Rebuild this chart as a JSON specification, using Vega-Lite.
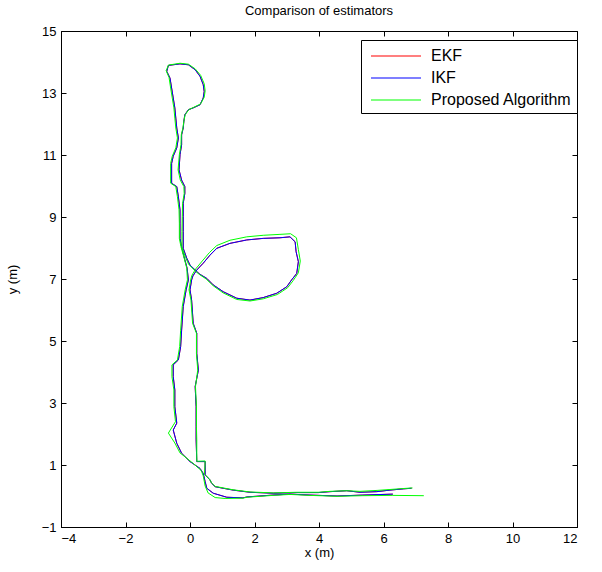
{
  "$schema": "https://vega.github.io/schema/vega-lite/v6.json",
  "width": 516,
  "height": 496,
  "autosize": {"type": "none"},
  "padding": {"left": 61, "top": 31, "right": 25, "bottom": 45},
  "background": "white",
  "title": {"text": "Comparison of estimators", "fontSize": 13, "fontWeight": "normal", "font": "Liberation Sans", "color": "black", "offset": 7},
  "config": {
    "view": {"stroke": "black", "strokeWidth": 1},
    "axis": {"grid": false, "domainColor": "black", "tickColor": "black", "labelColor": "black", "labelFont": "Liberation Sans", "labelFontSize": 13, "titleFont": "Liberation Sans", "titleFontSize": 13, "titleFontWeight": "normal", "titleColor": "black", "tickSize": -5, "labelPadding": 10}
  },
  "datasets": {
    "pts": [
      {"s":"EKF","i":1,"x":6.87,"y":0.25},{"s":"EKF","i":2,"x":6.61,"y":0.23},{"s":"EKF","i":3,"x":6.2,"y":0.19},{"s":"EKF","i":4,"x":5.79,"y":0.14},{"s":"EKF","i":5,"x":5.27,"y":0.12},{"s":"EKF","i":6,"x":4.86,"y":0.17},{"s":"EKF","i":7,"x":4.34,"y":0.14},{"s":"EKF","i":8,"x":3.98,"y":0.11},{"s":"EKF","i":9,"x":3.31,"y":0.11},{"s":"EKF","i":10,"x":2.58,"y":0.09},{"s":"EKF","i":11,"x":1.86,"y":0.12},{"s":"EKF","i":12,"x":1.34,"y":0.19},{"s":"EKF","i":13,"x":1.03,"y":0.25},{"s":"EKF","i":14,"x":0.78,"y":0.3},{"s":"EKF","i":15,"x":0.67,"y":0.41},{"s":"EKF","i":16,"x":0.62,"y":0.52},{"s":"EKF","i":17,"x":0.47,"y":0.68},{"s":"EKF","i":18,"x":0.47,"y":1.11},{"s":"EKF","i":19,"x":0.21,"y":1.11},{"s":"EKF","i":20,"x":0.19,"y":1.81},{"s":"EKF","i":21,"x":0.19,"y":2.24},{"s":"EKF","i":22,"x":0.19,"y":2.88},{"s":"EKF","i":23,"x":0.16,"y":3.53},{"s":"EKF","i":24,"x":0.26,"y":4.06},{"s":"EKF","i":25,"x":0.21,"y":4.6},{"s":"EKF","i":26,"x":0.21,"y":5.25},{"s":"EKF","i":27,"x":0.1,"y":5.57},{"s":"EKF","i":28,"x":0.05,"y":6.32},{"s":"EKF","i":29,"x":0.0,"y":6.65},{"s":"EKF","i":30,"x":0.05,"y":6.97},{"s":"EKF","i":31,"x":0.09,"y":7.1},{"s":"EKF","i":32,"x":0.21,"y":7.29},{"s":"EKF","i":33,"x":0.41,"y":7.51},{"s":"EKF","i":34,"x":0.62,"y":7.77},{"s":"EKF","i":35,"x":0.83,"y":7.99},{"s":"EKF","i":36,"x":1.24,"y":8.15},{"s":"EKF","i":37,"x":1.76,"y":8.26},{"s":"EKF","i":38,"x":2.27,"y":8.31},{"s":"EKF","i":39,"x":2.79,"y":8.33},{"s":"EKF","i":40,"x":3.1,"y":8.36},{"s":"EKF","i":41,"x":3.26,"y":8.2},{"s":"EKF","i":42,"x":3.29,"y":7.88},{"s":"EKF","i":43,"x":3.36,"y":7.56},{"s":"EKF","i":44,"x":3.31,"y":7.18},{"s":"EKF","i":45,"x":3.15,"y":6.97},{"s":"EKF","i":46,"x":3.0,"y":6.75},{"s":"EKF","i":47,"x":2.69,"y":6.54},{"s":"EKF","i":48,"x":2.27,"y":6.4},{"s":"EKF","i":49,"x":1.86,"y":6.32},{"s":"EKF","i":50,"x":1.45,"y":6.38},{"s":"EKF","i":51,"x":1.03,"y":6.59},{"s":"EKF","i":52,"x":0.72,"y":6.81},{"s":"EKF","i":53,"x":0.52,"y":7.02},{"s":"EKF","i":54,"x":0.31,"y":7.15},{"s":"EKF","i":55,"x":0.21,"y":7.24},{"s":"EKF","i":56,"x":0.0,"y":7.45},{"s":"EKF","i":57,"x":-0.1,"y":7.67},{"s":"EKF","i":58,"x":-0.21,"y":7.99},{"s":"EKF","i":59,"x":-0.21,"y":8.53},{"s":"EKF","i":60,"x":-0.21,"y":9.01},{"s":"EKF","i":61,"x":-0.21,"y":9.44},{"s":"EKF","i":62,"x":-0.16,"y":9.76},{"s":"EKF","i":63,"x":-0.16,"y":9.98},{"s":"EKF","i":64,"x":-0.26,"y":10.19},{"s":"EKF","i":65,"x":-0.34,"y":10.52},{"s":"EKF","i":66,"x":-0.31,"y":11.01},{"s":"EKF","i":67,"x":-0.26,"y":11.33},{"s":"EKF","i":68,"x":-0.26,"y":11.65},{"s":"EKF","i":69,"x":-0.21,"y":11.87},{"s":"EKF","i":70,"x":-0.19,"y":12.09},{"s":"EKF","i":71,"x":-0.16,"y":12.3},{"s":"EKF","i":72,"x":-0.05,"y":12.46},{"s":"EKF","i":73,"x":0.1,"y":12.52},{"s":"EKF","i":74,"x":0.31,"y":12.62},{"s":"EKF","i":75,"x":0.41,"y":12.84},{"s":"EKF","i":76,"x":0.44,"y":13.05},{"s":"EKF","i":77,"x":0.41,"y":13.27},{"s":"EKF","i":78,"x":0.31,"y":13.54},{"s":"EKF","i":79,"x":0.16,"y":13.75},{"s":"EKF","i":80,"x":-0.05,"y":13.91},{"s":"EKF","i":81,"x":-0.31,"y":13.94},{"s":"EKF","i":82,"x":-0.67,"y":13.89},{"s":"EKF","i":83,"x":-0.72,"y":13.7},{"s":"EKF","i":84,"x":-0.62,"y":13.48},{"s":"EKF","i":85,"x":-0.57,"y":13.16},{"s":"EKF","i":86,"x":-0.52,"y":12.84},{"s":"EKF","i":87,"x":-0.47,"y":12.52},{"s":"EKF","i":88,"x":-0.44,"y":12.19},{"s":"EKF","i":89,"x":-0.41,"y":11.87},{"s":"EKF","i":90,"x":-0.36,"y":11.55},{"s":"EKF","i":91,"x":-0.41,"y":11.23},{"s":"EKF","i":92,"x":-0.52,"y":10.96},{"s":"EKF","i":93,"x":-0.57,"y":10.73},{"s":"EKF","i":94,"x":-0.57,"y":10.09},{"s":"EKF","i":95,"x":-0.41,"y":9.98},{"s":"EKF","i":96,"x":-0.36,"y":9.65},{"s":"EKF","i":97,"x":-0.31,"y":9.23},{"s":"EKF","i":98,"x":-0.31,"y":8.8},{"s":"EKF","i":99,"x":-0.31,"y":8.31},{"s":"EKF","i":100,"x":-0.26,"y":8.04},{"s":"EKF","i":101,"x":-0.19,"y":7.74},{"s":"EKF","i":102,"x":-0.09,"y":7.35},{"s":"EKF","i":103,"x":-0.05,"y":6.97},{"s":"EKF","i":104,"x":-0.12,"y":6.65},{"s":"EKF","i":105,"x":-0.21,"y":6.11},{"s":"EKF","i":106,"x":-0.26,"y":5.35},{"s":"EKF","i":107,"x":-0.29,"y":4.82},{"s":"EKF","i":108,"x":-0.36,"y":4.39},{"s":"EKF","i":109,"x":-0.52,"y":4.23},{"s":"EKF","i":110,"x":-0.52,"y":3.85},{"s":"EKF","i":111,"x":-0.47,"y":3.42},{"s":"EKF","i":112,"x":-0.47,"y":2.88},{"s":"EKF","i":113,"x":-0.41,"y":2.35},{"s":"EKF","i":114,"x":-0.52,"y":2.13},{"s":"EKF","i":115,"x":-0.41,"y":1.7},{"s":"EKF","i":116,"x":-0.26,"y":1.38},{"s":"EKF","i":117,"x":0.0,"y":1.11},{"s":"EKF","i":118,"x":0.31,"y":0.89},{"s":"EKF","i":119,"x":0.41,"y":0.73},{"s":"EKF","i":120,"x":0.47,"y":0.46},{"s":"EKF","i":121,"x":0.52,"y":0.25},{"s":"EKF","i":122,"x":0.72,"y":0.09},{"s":"EKF","i":123,"x":1.14,"y":-0.04},{"s":"EKF","i":124,"x":1.64,"y":-0.06},{"s":"EKF","i":125,"x":1.77,"y":-0.03},{"s":"EKF","i":126,"x":2.57,"y":0.03},{"s":"EKF","i":127,"x":3.1,"y":0.06},{"s":"EKF","i":128,"x":3.72,"y":0.03},{"s":"EKF","i":129,"x":4.56,"y":0.0},{"s":"EKF","i":130,"x":5.36,"y":0.03},{"s":"EKF","i":131,"x":6.29,"y":0.06},
      {"s":"IKF","i":1,"x":6.87,"y":0.25},{"s":"IKF","i":2,"x":6.61,"y":0.23},{"s":"IKF","i":3,"x":6.2,"y":0.19},{"s":"IKF","i":4,"x":5.79,"y":0.14},{"s":"IKF","i":5,"x":5.27,"y":0.12},{"s":"IKF","i":6,"x":4.86,"y":0.17},{"s":"IKF","i":7,"x":4.34,"y":0.14},{"s":"IKF","i":8,"x":3.98,"y":0.11},{"s":"IKF","i":9,"x":3.31,"y":0.11},{"s":"IKF","i":10,"x":2.58,"y":0.09},{"s":"IKF","i":11,"x":1.86,"y":0.12},{"s":"IKF","i":12,"x":1.34,"y":0.19},{"s":"IKF","i":13,"x":1.03,"y":0.25},{"s":"IKF","i":14,"x":0.78,"y":0.3},{"s":"IKF","i":15,"x":0.67,"y":0.41},{"s":"IKF","i":16,"x":0.62,"y":0.52},{"s":"IKF","i":17,"x":0.47,"y":0.68},{"s":"IKF","i":18,"x":0.47,"y":1.11},{"s":"IKF","i":19,"x":0.21,"y":1.11},{"s":"IKF","i":20,"x":0.19,"y":1.81},{"s":"IKF","i":21,"x":0.19,"y":2.24},{"s":"IKF","i":22,"x":0.19,"y":2.88},{"s":"IKF","i":23,"x":0.16,"y":3.53},{"s":"IKF","i":24,"x":0.26,"y":4.06},{"s":"IKF","i":25,"x":0.21,"y":4.6},{"s":"IKF","i":26,"x":0.21,"y":5.25},{"s":"IKF","i":27,"x":0.1,"y":5.57},{"s":"IKF","i":28,"x":0.05,"y":6.32},{"s":"IKF","i":29,"x":0.0,"y":6.65},{"s":"IKF","i":30,"x":0.05,"y":6.97},{"s":"IKF","i":31,"x":0.09,"y":7.1},{"s":"IKF","i":32,"x":0.21,"y":7.29},{"s":"IKF","i":33,"x":0.41,"y":7.51},{"s":"IKF","i":34,"x":0.62,"y":7.77},{"s":"IKF","i":35,"x":0.83,"y":7.99},{"s":"IKF","i":36,"x":1.24,"y":8.15},{"s":"IKF","i":37,"x":1.76,"y":8.26},{"s":"IKF","i":38,"x":2.27,"y":8.31},{"s":"IKF","i":39,"x":2.79,"y":8.33},{"s":"IKF","i":40,"x":3.1,"y":8.36},{"s":"IKF","i":41,"x":3.26,"y":8.2},{"s":"IKF","i":42,"x":3.29,"y":7.88},{"s":"IKF","i":43,"x":3.36,"y":7.56},{"s":"IKF","i":44,"x":3.31,"y":7.18},{"s":"IKF","i":45,"x":3.15,"y":6.97},{"s":"IKF","i":46,"x":3.0,"y":6.75},{"s":"IKF","i":47,"x":2.69,"y":6.54},{"s":"IKF","i":48,"x":2.27,"y":6.4},{"s":"IKF","i":49,"x":1.86,"y":6.32},{"s":"IKF","i":50,"x":1.45,"y":6.38},{"s":"IKF","i":51,"x":1.03,"y":6.59},{"s":"IKF","i":52,"x":0.72,"y":6.81},{"s":"IKF","i":53,"x":0.52,"y":7.02},{"s":"IKF","i":54,"x":0.31,"y":7.15},{"s":"IKF","i":55,"x":0.21,"y":7.24},{"s":"IKF","i":56,"x":0.0,"y":7.45},{"s":"IKF","i":57,"x":-0.1,"y":7.67},{"s":"IKF","i":58,"x":-0.21,"y":7.99},{"s":"IKF","i":59,"x":-0.21,"y":8.53},{"s":"IKF","i":60,"x":-0.21,"y":9.01},{"s":"IKF","i":61,"x":-0.21,"y":9.44},{"s":"IKF","i":62,"x":-0.16,"y":9.76},{"s":"IKF","i":63,"x":-0.16,"y":9.98},{"s":"IKF","i":64,"x":-0.26,"y":10.19},{"s":"IKF","i":65,"x":-0.34,"y":10.52},{"s":"IKF","i":66,"x":-0.31,"y":11.01},{"s":"IKF","i":67,"x":-0.26,"y":11.33},{"s":"IKF","i":68,"x":-0.26,"y":11.65},{"s":"IKF","i":69,"x":-0.21,"y":11.87},{"s":"IKF","i":70,"x":-0.19,"y":12.09},{"s":"IKF","i":71,"x":-0.16,"y":12.3},{"s":"IKF","i":72,"x":-0.05,"y":12.46},{"s":"IKF","i":73,"x":0.1,"y":12.52},{"s":"IKF","i":74,"x":0.31,"y":12.62},{"s":"IKF","i":75,"x":0.41,"y":12.84},{"s":"IKF","i":76,"x":0.44,"y":13.05},{"s":"IKF","i":77,"x":0.41,"y":13.27},{"s":"IKF","i":78,"x":0.31,"y":13.54},{"s":"IKF","i":79,"x":0.16,"y":13.75},{"s":"IKF","i":80,"x":-0.05,"y":13.91},{"s":"IKF","i":81,"x":-0.31,"y":13.94},{"s":"IKF","i":82,"x":-0.67,"y":13.89},{"s":"IKF","i":83,"x":-0.72,"y":13.7},{"s":"IKF","i":84,"x":-0.62,"y":13.48},{"s":"IKF","i":85,"x":-0.57,"y":13.16},{"s":"IKF","i":86,"x":-0.52,"y":12.84},{"s":"IKF","i":87,"x":-0.47,"y":12.52},{"s":"IKF","i":88,"x":-0.44,"y":12.19},{"s":"IKF","i":89,"x":-0.41,"y":11.87},{"s":"IKF","i":90,"x":-0.36,"y":11.55},{"s":"IKF","i":91,"x":-0.41,"y":11.23},{"s":"IKF","i":92,"x":-0.52,"y":10.96},{"s":"IKF","i":93,"x":-0.57,"y":10.73},{"s":"IKF","i":94,"x":-0.57,"y":10.09},{"s":"IKF","i":95,"x":-0.41,"y":9.98},{"s":"IKF","i":96,"x":-0.36,"y":9.65},{"s":"IKF","i":97,"x":-0.31,"y":9.23},{"s":"IKF","i":98,"x":-0.31,"y":8.8},{"s":"IKF","i":99,"x":-0.31,"y":8.31},{"s":"IKF","i":100,"x":-0.26,"y":8.04},{"s":"IKF","i":101,"x":-0.19,"y":7.74},{"s":"IKF","i":102,"x":-0.09,"y":7.35},{"s":"IKF","i":103,"x":-0.05,"y":6.97},{"s":"IKF","i":104,"x":-0.12,"y":6.65},{"s":"IKF","i":105,"x":-0.21,"y":6.11},{"s":"IKF","i":106,"x":-0.26,"y":5.35},{"s":"IKF","i":107,"x":-0.29,"y":4.82},{"s":"IKF","i":108,"x":-0.36,"y":4.39},{"s":"IKF","i":109,"x":-0.52,"y":4.23},{"s":"IKF","i":110,"x":-0.52,"y":3.85},{"s":"IKF","i":111,"x":-0.47,"y":3.42},{"s":"IKF","i":112,"x":-0.47,"y":2.88},{"s":"IKF","i":113,"x":-0.41,"y":2.35},{"s":"IKF","i":114,"x":-0.52,"y":2.13},{"s":"IKF","i":115,"x":-0.41,"y":1.7},{"s":"IKF","i":116,"x":-0.26,"y":1.38},{"s":"IKF","i":117,"x":0.0,"y":1.11},{"s":"IKF","i":118,"x":0.31,"y":0.89},{"s":"IKF","i":119,"x":0.41,"y":0.73},{"s":"IKF","i":120,"x":0.47,"y":0.46},{"s":"IKF","i":121,"x":0.52,"y":0.25},{"s":"IKF","i":122,"x":0.72,"y":0.09},{"s":"IKF","i":123,"x":1.14,"y":-0.04},{"s":"IKF","i":124,"x":1.64,"y":-0.06},{"s":"IKF","i":125,"x":1.77,"y":-0.03},{"s":"IKF","i":126,"x":2.57,"y":0.03},{"s":"IKF","i":127,"x":3.1,"y":0.06},{"s":"IKF","i":128,"x":3.72,"y":0.03},{"s":"IKF","i":129,"x":4.56,"y":0.0},{"s":"IKF","i":130,"x":5.36,"y":0.03},{"s":"IKF","i":131,"x":6.29,"y":0.06},
      {"s":"Proposed Algorithm","i":1,"x":6.9,"y":0.26},{"s":"Proposed Algorithm","i":2,"x":6.6,"y":0.24},{"s":"Proposed Algorithm","i":3,"x":6.2,"y":0.21},{"s":"Proposed Algorithm","i":4,"x":5.8,"y":0.18},{"s":"Proposed Algorithm","i":5,"x":5.27,"y":0.15},{"s":"Proposed Algorithm","i":6,"x":4.86,"y":0.17},{"s":"Proposed Algorithm","i":7,"x":4.34,"y":0.15},{"s":"Proposed Algorithm","i":8,"x":3.98,"y":0.12},{"s":"Proposed Algorithm","i":9,"x":3.31,"y":0.12},{"s":"Proposed Algorithm","i":10,"x":2.58,"y":0.1},{"s":"Proposed Algorithm","i":11,"x":1.86,"y":0.13},{"s":"Proposed Algorithm","i":12,"x":1.34,"y":0.2},{"s":"Proposed Algorithm","i":13,"x":1.03,"y":0.26},{"s":"Proposed Algorithm","i":14,"x":0.78,"y":0.31},{"s":"Proposed Algorithm","i":15,"x":0.67,"y":0.42},{"s":"Proposed Algorithm","i":16,"x":0.6,"y":0.55},{"s":"Proposed Algorithm","i":17,"x":0.45,"y":0.7},{"s":"Proposed Algorithm","i":18,"x":0.47,"y":1.13},{"s":"Proposed Algorithm","i":19,"x":0.21,"y":1.12},{"s":"Proposed Algorithm","i":20,"x":0.21,"y":1.81},{"s":"Proposed Algorithm","i":21,"x":0.2,"y":2.24},{"s":"Proposed Algorithm","i":22,"x":0.2,"y":2.88},{"s":"Proposed Algorithm","i":23,"x":0.17,"y":3.53},{"s":"Proposed Algorithm","i":24,"x":0.24,"y":4.06},{"s":"Proposed Algorithm","i":25,"x":0.2,"y":4.6},{"s":"Proposed Algorithm","i":26,"x":0.2,"y":5.25},{"s":"Proposed Algorithm","i":27,"x":0.08,"y":5.57},{"s":"Proposed Algorithm","i":28,"x":0.03,"y":6.32},{"s":"Proposed Algorithm","i":29,"x":-0.03,"y":6.65},{"s":"Proposed Algorithm","i":30,"x":0.02,"y":6.97},{"s":"Proposed Algorithm","i":31,"x":0.06,"y":7.12},{"s":"Proposed Algorithm","i":32,"x":0.18,"y":7.33},{"s":"Proposed Algorithm","i":33,"x":0.38,"y":7.58},{"s":"Proposed Algorithm","i":34,"x":0.6,"y":7.85},{"s":"Proposed Algorithm","i":35,"x":0.83,"y":8.08},{"s":"Proposed Algorithm","i":36,"x":1.24,"y":8.25},{"s":"Proposed Algorithm","i":37,"x":1.76,"y":8.36},{"s":"Proposed Algorithm","i":38,"x":2.27,"y":8.41},{"s":"Proposed Algorithm","i":39,"x":2.79,"y":8.44},{"s":"Proposed Algorithm","i":40,"x":3.12,"y":8.46},{"s":"Proposed Algorithm","i":41,"x":3.3,"y":8.33},{"s":"Proposed Algorithm","i":42,"x":3.36,"y":7.95},{"s":"Proposed Algorithm","i":43,"x":3.42,"y":7.58},{"s":"Proposed Algorithm","i":44,"x":3.36,"y":7.2},{"s":"Proposed Algorithm","i":45,"x":3.2,"y":6.95},{"s":"Proposed Algorithm","i":46,"x":3.03,"y":6.72},{"s":"Proposed Algorithm","i":47,"x":2.71,"y":6.5},{"s":"Proposed Algorithm","i":48,"x":2.27,"y":6.36},{"s":"Proposed Algorithm","i":49,"x":1.86,"y":6.29},{"s":"Proposed Algorithm","i":50,"x":1.45,"y":6.34},{"s":"Proposed Algorithm","i":51,"x":1.03,"y":6.55},{"s":"Proposed Algorithm","i":52,"x":0.72,"y":6.78},{"s":"Proposed Algorithm","i":53,"x":0.5,"y":7.0},{"s":"Proposed Algorithm","i":54,"x":0.3,"y":7.14},{"s":"Proposed Algorithm","i":55,"x":0.18,"y":7.24},{"s":"Proposed Algorithm","i":56,"x":-0.04,"y":7.47},{"s":"Proposed Algorithm","i":57,"x":-0.14,"y":7.7},{"s":"Proposed Algorithm","i":58,"x":-0.25,"y":8.02},{"s":"Proposed Algorithm","i":59,"x":-0.25,"y":8.53},{"s":"Proposed Algorithm","i":60,"x":-0.24,"y":9.01},{"s":"Proposed Algorithm","i":61,"x":-0.23,"y":9.44},{"s":"Proposed Algorithm","i":62,"x":-0.18,"y":9.76},{"s":"Proposed Algorithm","i":63,"x":-0.19,"y":9.98},{"s":"Proposed Algorithm","i":64,"x":-0.3,"y":10.19},{"s":"Proposed Algorithm","i":65,"x":-0.37,"y":10.52},{"s":"Proposed Algorithm","i":66,"x":-0.33,"y":11.01},{"s":"Proposed Algorithm","i":67,"x":-0.28,"y":11.33},{"s":"Proposed Algorithm","i":68,"x":-0.27,"y":11.65},{"s":"Proposed Algorithm","i":69,"x":-0.22,"y":11.87},{"s":"Proposed Algorithm","i":70,"x":-0.19,"y":12.09},{"s":"Proposed Algorithm","i":71,"x":-0.15,"y":12.3},{"s":"Proposed Algorithm","i":72,"x":-0.03,"y":12.47},{"s":"Proposed Algorithm","i":73,"x":0.12,"y":12.54},{"s":"Proposed Algorithm","i":74,"x":0.33,"y":12.65},{"s":"Proposed Algorithm","i":75,"x":0.44,"y":12.86},{"s":"Proposed Algorithm","i":76,"x":0.47,"y":13.07},{"s":"Proposed Algorithm","i":77,"x":0.44,"y":13.3},{"s":"Proposed Algorithm","i":78,"x":0.33,"y":13.57},{"s":"Proposed Algorithm","i":79,"x":0.16,"y":13.78},{"s":"Proposed Algorithm","i":80,"x":-0.05,"y":13.93},{"s":"Proposed Algorithm","i":81,"x":-0.31,"y":13.96},{"s":"Proposed Algorithm","i":82,"x":-0.67,"y":13.9},{"s":"Proposed Algorithm","i":83,"x":-0.74,"y":13.72},{"s":"Proposed Algorithm","i":84,"x":-0.65,"y":13.5},{"s":"Proposed Algorithm","i":85,"x":-0.6,"y":13.16},{"s":"Proposed Algorithm","i":86,"x":-0.55,"y":12.84},{"s":"Proposed Algorithm","i":87,"x":-0.5,"y":12.52},{"s":"Proposed Algorithm","i":88,"x":-0.47,"y":12.19},{"s":"Proposed Algorithm","i":89,"x":-0.44,"y":11.87},{"s":"Proposed Algorithm","i":90,"x":-0.39,"y":11.55},{"s":"Proposed Algorithm","i":91,"x":-0.44,"y":11.23},{"s":"Proposed Algorithm","i":92,"x":-0.55,"y":10.96},{"s":"Proposed Algorithm","i":93,"x":-0.6,"y":10.73},{"s":"Proposed Algorithm","i":94,"x":-0.6,"y":10.09},{"s":"Proposed Algorithm","i":95,"x":-0.44,"y":9.98},{"s":"Proposed Algorithm","i":96,"x":-0.39,"y":9.65},{"s":"Proposed Algorithm","i":97,"x":-0.34,"y":9.23},{"s":"Proposed Algorithm","i":98,"x":-0.33,"y":8.8},{"s":"Proposed Algorithm","i":99,"x":-0.33,"y":8.31},{"s":"Proposed Algorithm","i":100,"x":-0.28,"y":8.04},{"s":"Proposed Algorithm","i":101,"x":-0.2,"y":7.74},{"s":"Proposed Algorithm","i":102,"x":-0.1,"y":7.35},{"s":"Proposed Algorithm","i":103,"x":-0.08,"y":6.97},{"s":"Proposed Algorithm","i":104,"x":-0.15,"y":6.65},{"s":"Proposed Algorithm","i":105,"x":-0.24,"y":6.11},{"s":"Proposed Algorithm","i":106,"x":-0.29,"y":5.35},{"s":"Proposed Algorithm","i":107,"x":-0.32,"y":4.82},{"s":"Proposed Algorithm","i":108,"x":-0.39,"y":4.39},{"s":"Proposed Algorithm","i":109,"x":-0.56,"y":4.23},{"s":"Proposed Algorithm","i":110,"x":-0.56,"y":3.85},{"s":"Proposed Algorithm","i":111,"x":-0.5,"y":3.42},{"s":"Proposed Algorithm","i":112,"x":-0.5,"y":2.88},{"s":"Proposed Algorithm","i":113,"x":-0.45,"y":2.4},{"s":"Proposed Algorithm","i":114,"x":-0.67,"y":2.03},{"s":"Proposed Algorithm","i":115,"x":-0.47,"y":1.71},{"s":"Proposed Algorithm","i":116,"x":-0.31,"y":1.39},{"s":"Proposed Algorithm","i":117,"x":0.1,"y":1.05},{"s":"Proposed Algorithm","i":118,"x":0.35,"y":0.82},{"s":"Proposed Algorithm","i":119,"x":0.41,"y":0.65},{"s":"Proposed Algorithm","i":120,"x":0.47,"y":0.32},{"s":"Proposed Algorithm","i":121,"x":0.56,"y":0.1},{"s":"Proposed Algorithm","i":122,"x":0.78,"y":-0.05},{"s":"Proposed Algorithm","i":123,"x":1.09,"y":-0.08},{"s":"Proposed Algorithm","i":124,"x":1.64,"y":-0.07},{"s":"Proposed Algorithm","i":125,"x":1.77,"y":-0.04},{"s":"Proposed Algorithm","i":126,"x":2.57,"y":0.02},{"s":"Proposed Algorithm","i":127,"x":3.1,"y":0.05},{"s":"Proposed Algorithm","i":128,"x":3.72,"y":0.02},{"s":"Proposed Algorithm","i":129,"x":4.56,"y":-0.01},{"s":"Proposed Algorithm","i":130,"x":5.36,"y":0.01},{"s":"Proposed Algorithm","i":131,"x":6.29,"y":0.02},{"s":"Proposed Algorithm","i":132,"x":7.25,"y":0.01}
    ]
  },
  "data": {"name": "pts"},
  "layer": [
    {
      "mark": {"type": "line", "strokeWidth": 1, "interpolate": "linear"},
      "encoding": {
        "x": {"field": "x", "type": "quantitative", "scale": {"domain": [-4, 12], "nice": false, "zero": false}, "axis": {"orient": "bottom", "title": "x (m)", "values": [-4, -2, 0, 2, 4, 6, 8, 10, 12], "titlePadding": 1}},
        "y": {"field": "y", "type": "quantitative", "scale": {"domain": [-1, 15], "nice": false, "zero": false}, "axis": {"orient": "left", "title": "y (m)", "values": [-1, 1, 3, 5, 7, 9, 11, 13, 15], "titlePadding": 22}},
        "color": {"field": "s", "type": "nominal", "scale": {"domain": ["EKF", "IKF", "Proposed Algorithm"], "range": ["#ff0000", "#0000ff", "#00ff00"]},
          "legend": {"title": null, "orient": "none", "legendX": 300, "legendY": 9, "symbolType": "M-2.5,0H2.5", "symbolSize": 400, "symbolStrokeWidth": 1.2, "symbolFillColor": "transparent", "labelFont": "Liberation Sans", "labelFontSize": 16, "labelColor": "black", "strokeColor": "black", "fillColor": "white", "padding": 5, "rowPadding": 3, "symbolOffset": 19, "labelOffset": 24,
            "encode": {"symbols": {"update": {"stroke": {"scale": "color", "field": "value"}, "strokeOpacity": {"value": 1}, "opacity": {"value": 1}}}}}},
        "order": {"field": "i", "type": "quantitative"}
      }
    },
    {
      "mark": {"type": "point", "opacity": 0},
      "encoding": {
        "x": {"field": "x", "type": "quantitative", "axis": {"orient": "top", "title": null, "labels": false, "domain": false, "values": [-4, -2, 0, 2, 4, 6, 8, 10, 12]}},
        "y": {"field": "y", "type": "quantitative", "axis": {"orient": "right", "title": null, "labels": false, "domain": false, "values": [-1, 1, 3, 5, 7, 9, 11, 13, 15]}}
      }
    }
  ],
  "resolve": {"axis": {"x": "independent", "y": "independent"}}
}
